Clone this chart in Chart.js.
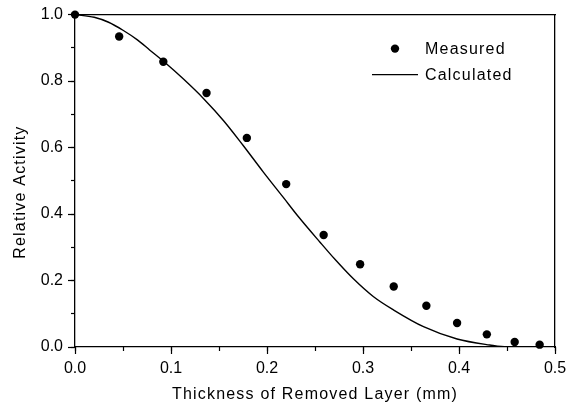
<!DOCTYPE html>
<html><head><meta charset="utf-8">
<script src="https://cdn.jsdelivr.net/npm/chart.js@4.4.0/dist/chart.umd.min.js"></script>
<style>html,body{margin:0;padding:0;background:#fff;} canvas{display:block;}</style>
</head><body>
<canvas id="c" width="578" height="415"></canvas>
<script>
// ---- data ----
const seriesNames = ['Measured', 'Calculated'];
const measuredX = [0, 0.046, 0.092, 0.137, 0.179, 0.220, 0.259, 0.297, 0.332, 0.366, 0.398, 0.429, 0.458, 0.484];
const measuredY = [1.0, 0.934, 0.858, 0.764, 0.629, 0.490, 0.337, 0.249, 0.182, 0.124, 0.072, 0.038, 0.015, 0.007];
const calculatedX = [0, 0.02, 0.035, 0.05, 0.065, 0.078, 0.094, 0.113, 0.134, 0.155, 0.175, 0.196, 0.217, 0.233, 0.255, 0.271, 0.29, 0.311, 0.332, 0.363, 0.398, 0.432, 0.45, 0.5];
const calculatedY = [1.0, 0.992, 0.977, 0.953, 0.924, 0.893, 0.855, 0.806, 0.747, 0.680, 0.607, 0.527, 0.450, 0.391, 0.316, 0.263, 0.205, 0.151, 0.111, 0.061, 0.024, 0.006, 0.0, 0.0];
const xTicks = [0, 0.1, 0.2, 0.3, 0.4, 0.5];
const xMinorTicks = [0, 0.05, 0.1, 0.15, 0.2, 0.25, 0.3, 0.35, 0.4, 0.45, 0.5];
const yTicks = [0, 0.2, 0.4, 0.6, 0.8, 1.0];
const yMinorTicks = [0, 0.1, 0.2, 0.3, 0.4, 0.5, 0.6, 0.7, 0.8, 0.9, 1.0];
const xTitle = 'Thickness of Removed Layer (mm)';
const yTitle = 'Relative Activity';

const FONT = "'Liberation Sans', Arial, sans-serif";
const INK = '#000';

const spacingPlugin = {
  id: 'spacing',
  beforeDraw(chart) { chart.ctx.letterSpacing = '1.2px'; },
  beforeDatasetsDraw(chart) { chart.ctx.letterSpacing = '0px'; }
};

const innerLegend = {
  id: 'innerLegend',
  afterDraw(chart) {
    const {ctx, chartArea} = chart;
    const ds = chart.data.datasets;
    const x0 = chartArea.left + 297, x1 = chartArea.left + 343;
    const tx = chartArea.left + 350;
    const rows = [chartArea.top + 34, chartArea.top + 60];
    ctx.save();
    ctx.letterSpacing = '1.2px';
    ctx.font = '16px ' + FONT;
    ctx.textBaseline = 'middle';
    ctx.textAlign = 'left';
    // measured
    ctx.beginPath();
    ctx.arc((x0 + x1) / 2, rows[0], ds[0].pointRadius, 0, Math.PI * 2);
    ctx.fillStyle = ds[0].pointBackgroundColor;
    ctx.fill();
    ctx.fillStyle = INK;
    ctx.fillText(ds[0].label, tx, rows[0] + 0.5);
    // calculated
    ctx.beginPath();
    ctx.moveTo(x0, rows[1]);
    ctx.lineTo(x1, rows[1]);
    ctx.strokeStyle = ds[1].borderColor;
    ctx.lineWidth = ds[1].borderWidth;
    ctx.stroke();
    ctx.fillText(ds[1].label, tx, rows[1] + 0.5);
    ctx.restore();
  }
};

const tickFont = {family: FONT, size: 16};
const titleFont = {family: FONT, size: 16};

new Chart(document.getElementById('c'), {
  type: 'scatter',
  data: {
    datasets: [
      {
        label: seriesNames[0],
        data: measuredX.map((x, i) => ({x, y: measuredY[i]})),
        showLine: false,
        pointRadius: 4.2,
        pointHoverRadius: 4.2,
        pointBackgroundColor: '#000',
        pointBorderWidth: 0,
        clip: false
      },
      {
        label: seriesNames[1],
        data: calculatedX.map((x, i) => ({x, y: calculatedY[i]})),
        showLine: true,
        pointRadius: 0,
        borderColor: '#000',
        borderWidth: 1.4,
        cubicInterpolationMode: 'monotone',
        fill: false
      }
    ]
  },
  options: {
    responsive: false,
    animation: false,
    devicePixelRatio: 1,
    layout: {padding: {top: 13, right: 23, left: 0, bottom: 0}},
    plugins: {legend: {display: false}, tooltip: {enabled: false}},
    scales: {
      x: {
        type: 'linear', position: 'bottom', weight: 1,
        min: 0, max: 0.5,
        afterBuildTicks: s => { s.ticks = xTicks.map(v => ({value: v})); },
        afterFit: s => { s.height = 68; },
        ticks: {font: tickFont, color: INK, padding: 5, z: 1, maxRotation: 0,
                callback: v => Number(v).toFixed(1)},
        grid: {drawOnChartArea: false, tickLength: 7, tickColor: INK, tickWidth: 1.2},
        border: {display: true, color: INK, width: 1.3},
        title: {display: true, text: xTitle, font: titleFont, color: INK, padding: {top: 0, bottom: 11}}
      },
      xm: {
        type: 'linear', position: 'bottom', weight: 0,
        min: 0, max: 0.5,
        afterBuildTicks: s => { s.ticks = xMinorTicks.map(v => ({value: v})); },
        afterFit: s => { s.height = 0; },
        ticks: {display: false},
        grid: {drawOnChartArea: false, tickLength: 4, tickColor: INK, tickWidth: 1.2},
        border: {display: false}
      },
      xt: {
        type: 'linear', position: 'top', weight: 0,
        min: 0, max: 0.5,
        afterFit: s => { s.height = 0; },
        ticks: {display: false},
        grid: {display: true, drawOnChartArea: false, drawTicks: false},
        border: {display: true, color: INK, width: 1.3}
      },
      y: {
        type: 'linear', position: 'left', weight: 1,
        min: 0, max: 1,
        afterBuildTicks: s => { s.ticks = yTicks.map(v => ({value: v})); },
        afterFit: s => { s.width = 75; },
        ticks: {font: tickFont, color: INK, padding: 5, z: 1,
                callback: v => Number(v).toFixed(1)},
        grid: {drawOnChartArea: false, tickLength: 7, tickColor: INK, tickWidth: 1.2},
        border: {display: true, color: INK, width: 1.3},
        title: {display: true, text: yTitle + '    ', font: titleFont, color: INK, padding: {top: 11, bottom: 0}}
      },
      ym: {
        type: 'linear', position: 'left', weight: 0,
        min: 0, max: 1,
        afterBuildTicks: s => { s.ticks = yMinorTicks.map(v => ({value: v})); },
        afterFit: s => { s.width = 0; },
        ticks: {display: false},
        grid: {drawOnChartArea: false, tickLength: 4, tickColor: INK, tickWidth: 1.2},
        border: {display: false}
      },
      yr: {
        type: 'linear', position: 'right', weight: 0,
        min: 0, max: 1,
        afterFit: s => { s.width = 0; },
        ticks: {display: false},
        grid: {display: true, drawOnChartArea: false, drawTicks: false},
        border: {display: true, color: INK, width: 1.3}
      }
    }
  },
  plugins: [spacingPlugin, innerLegend]
});
</script>
</body></html>
